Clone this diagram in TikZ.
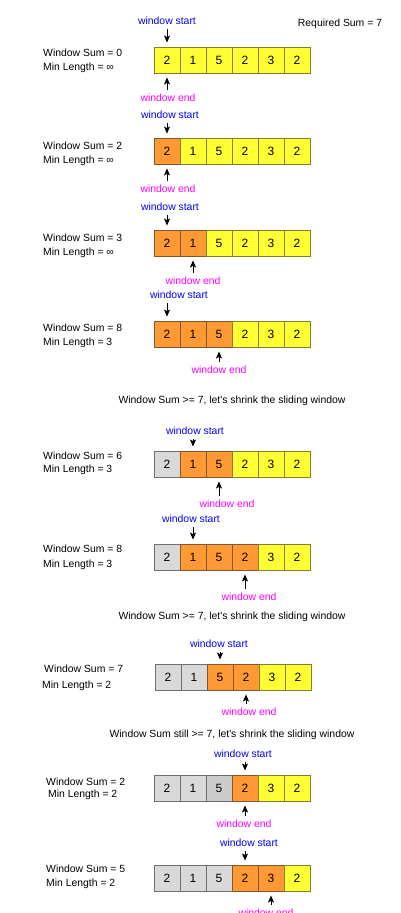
\documentclass[tikz,border=0pt]{standalone}
\usepackage{fontspec}
\setmainfont{Liberation Sans}
\usetikzlibrary{arrows.meta,positioning}
\definecolor{yel}{HTML}{FFFF33}
\definecolor{org}{HTML}{FF9933}
\definecolor{gry}{HTML}{D9D9D9}
\definecolor{gryd}{HTML}{CCCCCC}
\definecolor{startblue}{HTML}{0000FF}
\definecolor{endpink}{HTML}{FF00FF}
\begin{document}
\begin{tikzpicture}[
  x=1pt, y=-1pt,
  cell/.style={rectangle, draw=#1!50!black!80!gray, fill=#1, line width=0.9pt,
    minimum size=26pt, inner sep=0pt, font=\fontsize{12}{14}\selectfont},
  info/.style={anchor=west, inner sep=0pt, font=\fontsize{10.4}{12}\selectfont},
  note/.style={inner sep=1pt, font=\fontsize{10.4}{12}\selectfont},
  wstart/.style={note, text=startblue},
  wend/.style={note, text=endpink},
  ptr/.style={-{Stealth[length=7pt, width=6pt, inset=1.5pt]}, line width=1pt,
    shorten <=3pt, shorten >=4pt}
  ]
\useasboundingbox (0,0) rectangle (401,913);

\node[note] (req) at (340,24) {Required Sum = 7};

% row a
\foreach \v/\f [count=\i] in {2/yel,1/yel,5/yel,2/yel,3/yel,2/yel}
  \node[cell=\f] (a\i) at ({141+26*\i},60) {\v};
\node[info] (suma) at (43,53) {Window Sum = 0};
\node[info] (lena) at (43,68) {Min Length = ∞};
\node[wstart] (sa) at (167,21) {window start};
\node[wend] (ea) at (168,98) {window end};
\draw[ptr] (sa.south -| a1.north) -- (a1.north);
\draw[ptr] (ea.north -| a1.south) -- (a1.south);

% row b
\foreach \v/\f [count=\i] in {2/org,1/yel,5/yel,2/yel,3/yel,2/yel}
  \node[cell=\f] (b\i) at ({141+26*\i},151) {\v};
\node[info] (sumb) at (43,146) {Window Sum = 2};
\node[info] (lenb) at (43,161) {Min Length = ∞};
\node[wstart] (sb) at (170,115) {window start};
\node[wend] (eb) at (168,189) {window end};
\draw[ptr] (sb.south -| b1.north) -- (b1.north);
\draw[ptr] (eb.north -| b1.south) -- (b1.south);

% row c
\foreach \v/\f [count=\i] in {2/org,1/org,5/yel,2/yel,3/yel,2/yel}
  \node[cell=\f] (c\i) at ({141+26*\i},243) {\v};
\node[info] (sumc) at (43,238) {Window Sum = 3};
\node[info] (lenc) at (43,253) {Min Length = ∞};
\node[wstart] (sc) at (170,207) {window start};
\node[wend] (ec) at (193,281) {window end};
\draw[ptr] (sc.south -| c1.north) -- (c1.north);
\draw[ptr] (ec.north -| c2.south) -- (c2.south);

% row d
\foreach \v/\f [count=\i] in {2/org,1/org,5/org,2/yel,3/yel,2/yel}
  \node[cell=\f] (d\i) at ({141+26*\i},334) {\v};
\node[info] (sumd) at (43,328) {Window Sum = 8};
\node[info] (lend) at (43,343) {Min Length = 3};
\node[wstart] (sd) at (179,295) {window start};
\node[wend] (ed) at (219,370) {window end};
\draw[ptr] (sd.south -| d1.north) -- (d1.north);
\draw[ptr] (ed.north -| d3.south) -- (d3.south);

\node[note] (shrinka) at (232,401) {Window Sum >= 7, let\textquotesingle s shrink the sliding window};

% row e
\foreach \v/\f [count=\i] in {2/gry,1/org,5/org,2/yel,3/yel,2/yel}
  \node[cell=\f] (e\i) at ({141+26*\i},464) {\v};
\node[info] (sume) at (43,456) {Window Sum = 6};
\node[info] (lene) at (43,470) {Min Length = 3};
\node[wstart] (se) at (195,431) {window start};
\node[wend] (ee) at (227,504) {window end};
\draw[ptr] (se.south -| e2.north) -- (e2.north);
\draw[ptr] (ee.north -| e3.south) -- (e3.south);

% row f
\foreach \v/\f [count=\i] in {2/gry,1/org,5/org,2/org,3/yel,2/yel}
  \node[cell=\f] (f\i) at ({141+26*\i},557) {\v};
\node[info] (sumf) at (43,549) {Window Sum = 8};
\node[info] (lenf) at (43,565) {Min Length = 3};
\node[wstart] (sf) at (191,519) {window start};
\node[wend] (ef) at (249,597) {window end};
\draw[ptr] (sf.south -| f2.north) -- (f2.north);
\draw[ptr] (ef.north -| f4.south) -- (f4.south);

\node[note] (shrinkb) at (232,617) {Window Sum >= 7, let\textquotesingle s shrink the sliding window};

% row g
\foreach \v/\f [count=\i] in {2/gry,1/gry,5/org,2/org,3/yel,2/yel}
  \node[cell=\f] (g\i) at ({142+26*\i},677) {\v};
\node[info] (sumg) at (44,669) {Window Sum = 7};
\node[info] (leng) at (42,686) {Min Length = 2};
\node[wstart] (sg) at (219,644) {window start};
\node[wend] (eg) at (249,712) {window end};
\draw[ptr] (sg.south -| g3.north) -- (g3.north);
\draw[ptr] (eg.north -| g4.south) -- (g4.south);

\node[note] (shrinkc) at (232,735) {Window Sum still >= 7, let\textquotesingle s shrink the sliding window};

% row h
\foreach \v/\f [count=\i] in {2/gry,1/gry,5/gryd,2/org,3/yel,2/yel}
  \node[cell=\f] (h\i) at ({141+26*\i},788) {\v};
\node[info] (sumh) at (46,782) {Window Sum = 2};
\node[info] (lenh) at (48,795) {Min Length = 2};
\node[wstart] (sh) at (243,754) {window start};
\node[wend] (eh) at (244,824) {window end};
\draw[ptr] (sh.south -| h4.north) -- (h4.north);
\draw[ptr] (eh.north -| h4.south) -- (h4.south);

% row i
\foreach \v/\f [count=\i] in {2/gry,1/gry,5/gry,2/org,3/org,2/yel}
  \node[cell=\f] (i\i) at ({141+26*\i},878) {\v};
\node[info] (sumi) at (46,869) {Window Sum = 5};
\node[info] (leni) at (46,884) {Min Length = 2};
\node[wstart] (si) at (249,843) {window start};
\node[wend] (ei) at (266,913) {window end};
\draw[ptr] (si.south -| i4.north) -- (i4.north);
\draw[ptr] (ei.north -| i5.south) -- (i5.south);
\end{tikzpicture}
\end{document}
